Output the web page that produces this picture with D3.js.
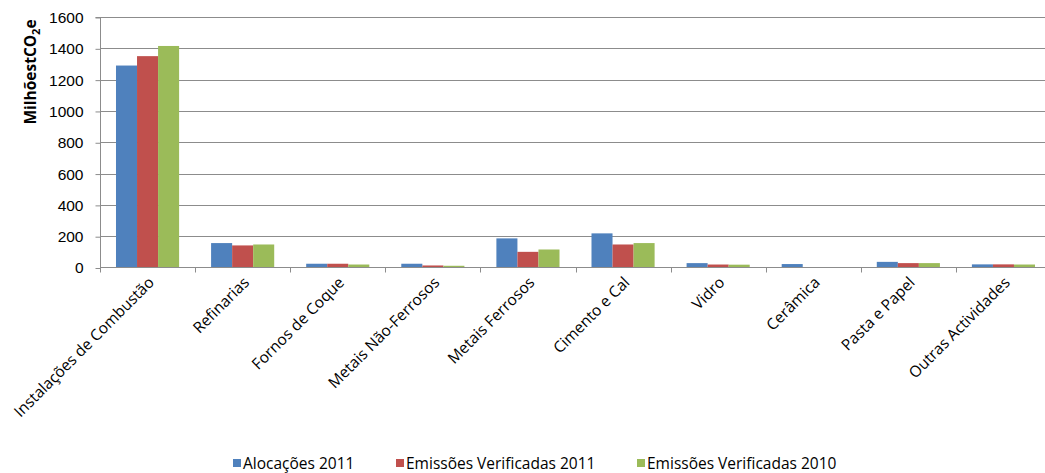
<!DOCTYPE html>
<html>
<head>
<meta charset="utf-8">
<script src="https://cdn.jsdelivr.net/npm/d3@7"></script>
<style>
  body { margin: 0; background: #fff; }
  svg { font-family: "Open Sans", sans-serif; }
</style>
</head>
<body>
<svg id="chart" width="1045" height="473"></svg>
<script>
const categories = ["Instalações de Combustão", "Refinarias", "Fornos de Coque", "Metais Não-Ferrosos",
  "Metais Ferrosos", "Cimento e Cal", "Vidro", "Cerâmica", "Pasta e Papel", "Outras Actividades"];
const seriesNames = ["Alocações 2011", "Emissões Verificadas 2011", "Emissões Verificadas 2010"];
const alocacoes2011 = [1290, 156, 24, 24, 186, 218, 28, 22, 36, 20];
const emissoes2011 = [1350, 141, 24, 13, 100, 147, 19, 0, 28, 20];
const emissoes2010 = [1415, 147, 19, 11, 115, 156, 18, 0, 28, 19];
const yTicks = [0, 200, 400, 600, 800, 1000, 1200, 1400, 1600];
const colors = ["#4F81BD", "#C0504D", "#9BBB59"];

const series = [alocacoes2011, emissoes2011, emissoes2010];

const svg = d3.select("#chart");
const mLeft = 100, mRight = 1051, mTop = 17, mBottom = 267.5;

const x = d3.scaleBand().domain(categories).range([mLeft, mRight]).paddingInner(0).paddingOuter(0);
const xInner = d3.scaleBand().domain(d3.range(3)).range([0, x.bandwidth()]).paddingInner(0).paddingOuter(0.76);
const y = d3.scaleLinear().domain([0, 1600]).range([mBottom, mTop]);

// gridlines
svg.append("g")
  .selectAll("line")
  .data(yTicks.slice(1))
  .join("line")
  .attr("x1", mLeft).attr("x2", mRight)
  .attr("y1", d => Math.round(y(d)) + 0.5).attr("y2", d => Math.round(y(d)) + 0.5)
  .attr("stroke", "#8c8c8c");

// bars
categories.forEach((c, i) => {
  series.forEach((s, j) => {
    svg.append("rect")
      .attr("x", x(c) + xInner(j))
      .attr("y", y(s[i]))
      .attr("width", xInner.bandwidth())
      .attr("height", mBottom - y(s[i]))
      .attr("fill", colors[j]);
  });
});

// y axis
const yAxis = svg.append("g")
  .attr("transform", `translate(${mLeft + 0.5},0.5)`)
  .call(d3.axisLeft(y).tickValues(yTicks).tickFormat(d3.format("d")).tickSize(5).tickPadding(12));
yAxis.select(".domain").attr("stroke", "#8c8c8c").attr("d", `M-5,${y(1600)}H0V${y(0)}`);
yAxis.selectAll(".tick line").attr("stroke", "#8c8c8c");
yAxis.selectAll("text").attr("font-size", 15.5).attr("fill", "#000");

// x axis
const xAxis = svg.append("g").attr("transform", `translate(0.5,${mBottom})`);
xAxis.append("line").attr("x1", mLeft).attr("x2", mRight).attr("stroke", "#8c8c8c");
xAxis.selectAll(".xt")
  .data(categories)
  .join("line")
  .attr("x1", d => Math.round(x(d))).attr("x2", d => Math.round(x(d)))
  .attr("y1", 0).attr("y2", 5)
  .attr("stroke", "#8c8c8c");
xAxis.selectAll(".xl")
  .data(categories)
  .join("text")
  .attr("transform", d => `translate(${x(d) + x.bandwidth() / 2 + 7},${16}) rotate(-45)`)
  .attr("text-anchor", "end")
  .attr("font-size", 15.5)
  .attr("fill", "#000")
  .text(d => d);

// y title
const title = svg.append("text")
  .attr("transform", "translate(36,72) rotate(-90)")
  .attr("text-anchor", "middle")
  .attr("font-size", 15.5)
  .attr("font-weight", "bold");
title.append("tspan").text("MilhõestCO");
title.append("tspan").attr("font-size", 11).attr("dy", 4).text("2");
title.append("tspan").attr("dy", -4).text("e");

// legend
const legendX = [233, 396, 637];
const legend = svg.append("g").selectAll("g")
  .data(seriesNames)
  .join("g")
  .attr("transform", (d, i) => `translate(${legendX[i]},458)`);
legend.append("rect").attr("width", 8).attr("height", 8).attr("y", 1).attr("fill", (d, i) => colors[i]);
legend.append("text").attr("x", 10).attr("y", 11).attr("font-size", 15.5).text(d => d);
</script>
</body>
</html>
